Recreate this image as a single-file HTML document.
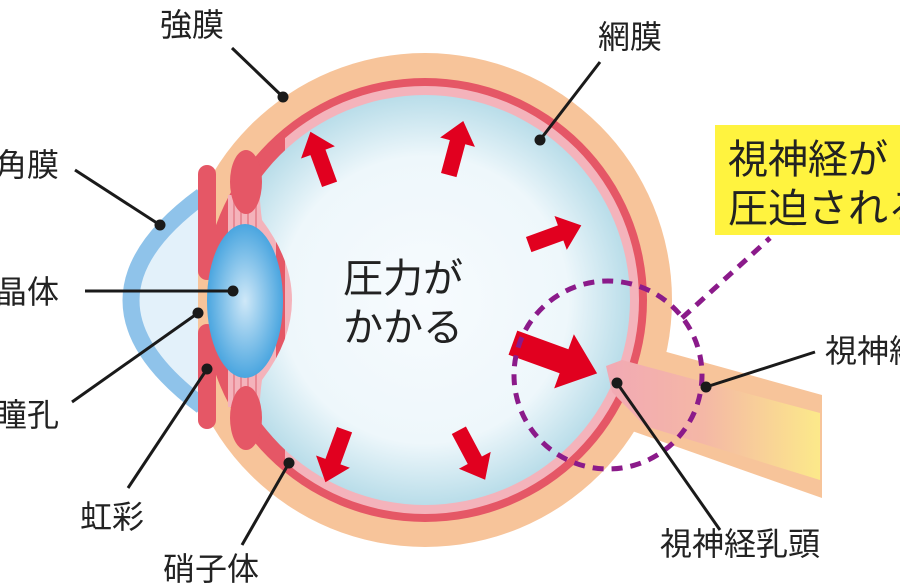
<!DOCTYPE html>
<html><head><meta charset="utf-8"><style>
html,body{margin:0;padding:0;background:#fff;}
svg{display:block;}
text{font-family:"Liberation Sans","Noto Sans CJK JP",sans-serif;fill:#222;}
</style></head><body>
<svg width="900" height="585" viewBox="0 0 900 585" xmlns="http://www.w3.org/2000/svg">
<defs>
<radialGradient id="vit" cx="0.5" cy="0.5" r="0.5">
<stop offset="0" stop-color="#f7fbfe"/><stop offset="0.7" stop-color="#eef7fb"/><stop offset="1" stop-color="#b9dde9"/></radialGradient>
<radialGradient id="lens" cx="0.5" cy="0.5" r="0.55">
<stop offset="0" stop-color="#cfe8f8"/><stop offset="1" stop-color="#3d9fdd"/></radialGradient>
<linearGradient id="nerve" x1="0" y1="0" x2="1" y2="0">
<stop offset="0" stop-color="#f2a9b4"/><stop offset="0.45" stop-color="#f4b7a6"/><stop offset="1" stop-color="#fce98a"/></linearGradient>
<clipPath id="cScl"><rect x="198" y="0" width="700" height="585"/></clipPath>
<clipPath id="cRed"><rect x="212" y="0" width="700" height="585"/></clipPath>
<clipPath id="cPink"><rect x="285" y="0" width="700" height="585"/></clipPath>
<clipPath id="cIn"><circle cx="425" cy="300" r="221"/></clipPath>
<clipPath id="cVit"><path d="M262,60 Q255,170 262,220 Q292,260 292,300 Q292,340 262,380 Q255,430 262,540 L700,540 L700,60 Z"/></clipPath>
<polygon id="arr" points="-28,-8 6,-8 6,-18 28,0 6,18 6,8 -28,8" fill="#e1001f"/>
</defs>
<!-- optic nerve -->
<polygon points="645,346 822,395 822,498 615,425" fill="#f7c49a"/>
<!-- cornea -->
<path d="M202,196 Q60,300 202,406 Z" fill="#e3f1fa"/>
<path d="M202,196 Q60,300 202,406" fill="none" stroke="#8fc3ea" stroke-width="17"/>
<!-- sclera -->
<circle cx="425" cy="300" r="247" fill="#f7c49a" clip-path="url(#cScl)"/>
<circle cx="425" cy="300" r="222" fill="#e55766" clip-path="url(#cRed)"/>
<circle cx="425" cy="300" r="214" fill="#f4b3bb" clip-path="url(#cPink)"/>
<!-- ciliary red crescents -->
<g clip-path="url(#cIn)">
<path d="M300,118 Q225,150 208,275 L228,275 Q235,190 280,140 Z" fill="#e55766"/>
<path d="M300,482 Q225,450 208,325 L228,325 Q235,410 280,460 Z" fill="#e55766"/>
</g>
<!-- zonule zone -->
<rect x="228" y="195" width="48" height="212" fill="#f4b3bb"/>
<g stroke="#e88a95" stroke-width="2">
<line x1="234" y1="200" x2="234" y2="230"/><line x1="241" y1="200" x2="241" y2="228"/><line x1="248" y1="200" x2="248" y2="228"/><line x1="256" y1="200" x2="256" y2="230"/>
<line x1="234" y1="372" x2="234" y2="402"/><line x1="241" y1="374" x2="241" y2="402"/><line x1="248" y1="374" x2="248" y2="402"/><line x1="256" y1="372" x2="256" y2="402"/>
</g>
<circle cx="425" cy="300" r="205" fill="url(#vit)" clip-path="url(#cVit)"/>
<!-- ciliary bulges -->
<ellipse cx="246" cy="182" rx="16" ry="32" fill="#e55766"/>
<ellipse cx="246" cy="418" rx="16" ry="32" fill="#e55766"/>
<!-- iris -->
<rect x="198" y="165" width="18" height="115" rx="9" fill="#e55766"/>
<rect x="198" y="324" width="18" height="105" rx="9" fill="#e55766"/>
<!-- optic nerve inner & disc -->
<polygon points="606,366 622,360 820,413 820,480 645,426 612,392" fill="url(#nerve)"/>
<ellipse cx="245" cy="301" rx="38" ry="77" fill="url(#lens)"/>
<!-- arrows -->
<use href="#arr" transform="translate(320,158) rotate(-110)"/>
<use href="#arr" transform="translate(456,148) rotate(-75)"/>
<use href="#arr" transform="translate(555,235) rotate(-20)"/>
<use href="#arr" transform="translate(555,358) rotate(20) scale(1.6)"/>
<use href="#arr" transform="translate(335,456) rotate(110)"/>
<use href="#arr" transform="translate(472,455) rotate(62)"/>
<!-- dashed -->
<circle cx="608" cy="375" r="94" fill="none" stroke="#8b1a8a" stroke-width="5" stroke-dasharray="11,8"/>
<line x1="682" y1="318" x2="770" y2="238" stroke="#8b1a8a" stroke-width="5" stroke-dasharray="11,8"/>
<!-- yellow box -->
<rect x="715" y="125" width="190" height="110" fill="#fff33f"/>
<text x="728" y="173" font-size="40">視神経が</text>
<text x="728" y="222" font-size="40">圧迫される</text>
<!-- center text -->
<text x="343" y="292" font-size="40">圧力が</text>
<text x="343" y="341" font-size="40">かかる</text>
<!-- leaders -->
<g stroke="#1a1a1a" stroke-width="3" fill="none">
<line x1="232" y1="48" x2="283" y2="97"/>
<line x1="600" y1="62" x2="540" y2="140"/>
<line x1="75" y1="170" x2="160" y2="225"/>
<line x1="85" y1="291" x2="233" y2="291"/>
<line x1="72" y1="402" x2="198" y2="313"/>
<line x1="128" y1="488" x2="207" y2="369"/>
<line x1="242" y1="545" x2="289" y2="463"/>
<line x1="720" y1="530" x2="617" y2="383"/>
<line x1="815" y1="352" x2="706" y2="387"/>
</g>
<g fill="#1a1a1a">
<circle cx="283" cy="97" r="5.5"/><circle cx="540" cy="140" r="5.5"/><circle cx="160" cy="225" r="5.5"/>
<circle cx="233" cy="291" r="5.5"/><circle cx="198" cy="313" r="5.5"/><circle cx="207" cy="369" r="5.5"/>
<circle cx="289" cy="463" r="5.5"/><circle cx="617" cy="383" r="5.5"/><circle cx="706" cy="387" r="5.5"/>
</g>
<!-- labels -->
<g font-size="32">
<text x="160" y="36">強膜</text>
<text x="598" y="48">網膜</text>
<text x="-5" y="176">角膜</text>
<text x="-5" y="303">晶体</text>
<text x="-5" y="426">瞳孔</text>
<text x="80" y="528">虹彩</text>
<text x="163" y="580">硝子体</text>
<text x="660" y="555">視神経乳頭</text>
<text x="825" y="362">視神経</text>
</g>
</svg>
</body></html>
